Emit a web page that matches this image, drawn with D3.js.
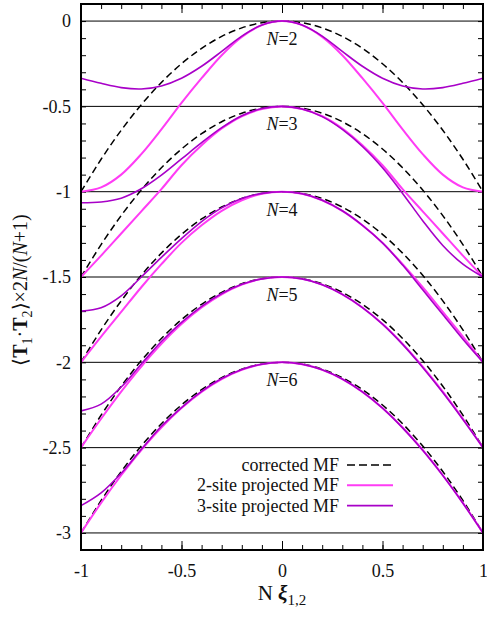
<!DOCTYPE html>
<html>
<head>
<meta charset="utf-8">
<script src="https://cdn.jsdelivr.net/npm/d3@7"></script>
<style>
  body { margin: 0; background: #fff; }
  svg text { font-family: "Liberation Serif", "Times New Roman", serif; fill: #111; }
</style>
</head>
<body>
<div id="chart"></div>
<script>
const width = 487,
  height = 620,
  margin = { top: 4, bottom: 70, left: 81, right: 4 };

// x positions of the read-off points
const xs = [-1, -0.9, -0.8, -0.7, -0.6, -0.5, -0.4, -0.3, -0.2, -0.1, 0,
  0.1, 0.2, 0.3, 0.4, 0.5, 0.6, 0.7, 0.8, 0.9, 1];

const Ns = [2, 3, 4, 5, 6];
const labelTops = [0, -0.5, -1, -1.5, -2];
const refLines = [0, -0.5, -1, -1.5, -2, -2.5, -3];
const xTicks = [-1, -0.5, 0, 0.5, 1];
const yTicks = [-3, -2.5, -2, -1.5, -1, -0.5, 0];

// corrected MF (dashed), one row per N
const correctedMF = [
  [-1, -0.81, -0.64, -0.49, -0.36, -0.25, -0.16, -0.09, -0.04, -0.01, 0, -0.01, -0.04, -0.09, -0.16, -0.25, -0.36, -0.49, -0.64, -0.81, -1],
  [-1.5, -1.31, -1.14, -0.99, -0.86, -0.75, -0.66, -0.59, -0.54, -0.51, -0.5, -0.51, -0.54, -0.59, -0.66, -0.75, -0.86, -0.99, -1.14, -1.31, -1.5],
  [-2, -1.81, -1.64, -1.49, -1.36, -1.25, -1.16, -1.09, -1.04, -1.01, -1, -1.01, -1.04, -1.09, -1.16, -1.25, -1.36, -1.49, -1.64, -1.81, -2],
  [-2.5, -2.31, -2.14, -1.99, -1.86, -1.75, -1.66, -1.59, -1.54, -1.51, -1.5, -1.51, -1.54, -1.59, -1.66, -1.75, -1.86, -1.99, -2.14, -2.31, -2.5],
  [-3, -2.81, -2.64, -2.49, -2.36, -2.25, -2.16, -2.09, -2.04, -2.01, -2, -2.01, -2.04, -2.09, -2.16, -2.25, -2.36, -2.49, -2.64, -2.81, -3]
];

// 2-site projected MF
const twoSiteMF = [
  [-1, -0.975, -0.9, -0.78, -0.635, -0.48, -0.335, -0.2, -0.093, -0.024, 0, -0.024, -0.093, -0.2, -0.335, -0.48, -0.635, -0.78, -0.9, -0.975, -1],
  [-1.5, -1.375, -1.245, -1.115, -0.985, -0.845, -0.728, -0.63, -0.558, -0.515, -0.5, -0.515, -0.558, -0.63, -0.728, -0.845, -0.985, -1.115, -1.245, -1.375, -1.5],
  [-2, -1.85, -1.705, -1.56, -1.425, -1.3, -1.197, -1.112, -1.05, -1.012, -1, -1.012, -1.05, -1.112, -1.197, -1.3, -1.425, -1.56, -1.705, -1.85, -2],
  [-2.5, -2.331, -2.172, -2.025, -1.892, -1.776, -1.679, -1.602, -1.545, -1.511, -1.5, -1.511, -1.545, -1.602, -1.679, -1.776, -1.892, -2.025, -2.172, -2.331, -2.5],
  [-3, -2.824, -2.662, -2.514, -2.382, -2.268, -2.173, -2.098, -2.044, -2.011, -2, -2.011, -2.044, -2.098, -2.173, -2.268, -2.382, -2.514, -2.662, -2.824, -3]
];

// 3-site projected MF
const threeSiteMF = [
  [-0.335, -0.365, -0.39, -0.398, -0.38, -0.335, -0.265, -0.178, -0.088, -0.023, 0, -0.023, -0.088, -0.178, -0.265, -0.335, -0.38, -0.398, -0.39, -0.365, -0.335],
  [-1.065, -1.06, -1.038, -0.983, -0.903, -0.808, -0.713, -0.625, -0.555, -0.513, -0.5, -0.515, -0.56, -0.635, -0.735, -0.86, -1.01, -1.17, -1.315, -1.425, -1.5],
  [-1.7, -1.68, -1.61, -1.5, -1.385, -1.275, -1.175, -1.095, -1.04, -1.01, -1, -1.012, -1.05, -1.112, -1.197, -1.3, -1.43, -1.575, -1.72, -1.865, -2],
  [-2.285, -2.245, -2.145, -2.01, -1.878, -1.766, -1.672, -1.597, -1.543, -1.511, -1.5, -1.511, -1.545, -1.602, -1.679, -1.776, -1.895, -2.03, -2.177, -2.335, -2.5],
  [-2.84, -2.765, -2.65, -2.51, -2.375, -2.265, -2.17, -2.095, -2.042, -2.011, -2, -2.011, -2.044, -2.098, -2.173, -2.268, -2.384, -2.516, -2.664, -2.826, -3]
];

const legendItems = ["corrected MF", "2-site projected MF", "3-site projected MF"];
const colors = { dashed: "#000", two: "#ff3cf5", three: "#a800c8" };

const xScale = d3.scaleLinear().domain([-1, 1]).range([margin.left, width - margin.right]);
const yScale = d3.scaleLinear().domain([-3.1, 0.1]).range([height - margin.bottom, margin.top]);

const svg = d3.select("#chart").append("svg")
  .attr("width", width)
  .attr("height", height);

svg.append("defs").append("clipPath").attr("id", "clip")
  .append("rect")
  .attr("x", margin.left).attr("y", margin.top)
  .attr("width", width - margin.left - margin.right)
  .attr("height", height - margin.top - margin.bottom);

// reference lines
svg.append("g").selectAll("line").data(refLines).join("line")
  .attr("x1", xScale(-1)).attr("x2", xScale(1))
  .attr("y1", d => yScale(d)).attr("y2", d => yScale(d))
  .attr("stroke", "#000").attr("stroke-width", 1);

// minor ticks
const minorX = d3.range(-10, 11).map(i => i / 10);
const minorY = d3.range(-31, 2).map(i => i / 10);
const bottom = height - margin.bottom, right = width - margin.right;

function ticksOn(g, axis, tr) {
  g.append("g").attr("transform", tr).call(axis)
    .call(a => a.select(".domain").remove())
    .call(a => a.selectAll("text").remove());
}
ticksOn(svg, d3.axisBottom(xScale).tickValues(minorX).tickSizeInner(-5).tickSizeOuter(0), `translate(0,${bottom})`);
ticksOn(svg, d3.axisTop(xScale).tickValues(minorX).tickSizeInner(-5).tickSizeOuter(0), `translate(0,${margin.top})`);
ticksOn(svg, d3.axisBottom(xScale).tickValues(xTicks).tickSizeInner(-9).tickSizeOuter(0), `translate(0,${bottom})`);
ticksOn(svg, d3.axisTop(xScale).tickValues(xTicks).tickSizeInner(-9).tickSizeOuter(0), `translate(0,${margin.top})`);
ticksOn(svg, d3.axisLeft(yScale).tickValues(minorY).tickSizeInner(-5).tickSizeOuter(0), `translate(${margin.left},0)`);
ticksOn(svg, d3.axisRight(yScale).tickValues(minorY).tickSizeInner(-5).tickSizeOuter(0), `translate(${right},0)`);

// labels
svg.append("g").attr("class", "x-axis")
  .attr("transform", `translate(0,${bottom})`)
  .call(d3.axisBottom(xScale).tickValues(xTicks).tickSize(0).tickPadding(14).tickFormat(d => String(d)))
  .call(g => g.select(".domain").remove())
  .selectAll("text").attr("font-size", 18).attr("font-family", "Liberation Serif");

svg.append("g").attr("class", "y-axis")
  .attr("transform", `translate(${margin.left},0)`)
  .call(d3.axisLeft(yScale).tickValues(yTicks).tickSize(0).tickPadding(10).tickFormat(d => String(d)))
  .call(g => g.select(".domain").remove())
  .selectAll("text").attr("font-size", 18).attr("font-family", "Liberation Serif");

// curves
const line = d3.line()
  .x((d, i) => xScale(xs[i]))
  .y(d => yScale(d))
  .curve(d3.curveCatmullRom);

const plot = svg.append("g").attr("clip-path", "url(#clip)");

plot.selectAll(".corr").data(correctedMF).join("path")
  .attr("class", "corr")
  .attr("d", line)
  .attr("fill", "none")
  .attr("stroke", colors.dashed)
  .attr("stroke-width", 1.5)
  .attr("stroke-dasharray", "7,4");

plot.selectAll(".two").data(twoSiteMF).join("path")
  .attr("class", "two")
  .attr("d", line)
  .attr("fill", "none")
  .attr("stroke", colors.two)
  .attr("stroke-width", 2);

plot.selectAll(".three").data(threeSiteMF).join("path")
  .attr("class", "three")
  .attr("d", line)
  .attr("fill", "none")
  .attr("stroke", colors.three)
  .attr("stroke-width", 1.6);

// N labels
const nLab = svg.append("g").selectAll("text").data(Ns).join("text")
  .attr("x", xScale(0))
  .attr("y", (d, i) => yScale(labelTops[i]) + 24)
  .attr("text-anchor", "middle")
  .attr("font-size", 18);
nLab.append("tspan").attr("font-style", "italic").text("N");
nLab.append("tspan").text(d => "=" + d);

// frame
svg.append("rect")
  .attr("x", margin.left).attr("y", margin.top)
  .attr("width", width - margin.left - margin.right)
  .attr("height", height - margin.top - margin.bottom)
  .attr("fill", "none")
  .attr("stroke", "#000")
  .attr("stroke-width", 2);

// legend
const legend = svg.append("g");
const legendStyles = [
  { stroke: colors.dashed, dash: "8,4", w: 1.5 },
  { stroke: colors.two, dash: null, w: 2 },
  { stroke: colors.three, dash: null, w: 1.6 }
];
legendItems.forEach((txt, i) => {
  const yb = 471 + i * 20.3;
  legend.append("text")
    .attr("x", 339).attr("y", yb)
    .attr("text-anchor", "end")
    .attr("font-size", 18)
    .text(txt);
  legend.append("line")
    .attr("x1", 347).attr("x2", 393)
    .attr("y1", yb - 6).attr("y2", yb - 6)
    .attr("stroke", legendStyles[i].stroke)
    .attr("stroke-width", legendStyles[i].w)
    .attr("stroke-dasharray", legendStyles[i].dash);
});

// x axis title
const xt = svg.append("text")
  .attr("x", 282).attr("y", 600)
  .attr("text-anchor", "middle")
  .attr("font-size", 21);
xt.append("tspan").text("N ");
xt.append("tspan").attr("font-weight", "bold").attr("font-style", "italic").text("ξ");
xt.append("tspan").attr("dy", 5).attr("font-size", 15).text("1,2");

// y axis title
const yt = svg.append("text")
  .attr("transform", "translate(27,290) rotate(-90)")
  .attr("text-anchor", "middle")
  .attr("font-size", 20);
yt.append("tspan").text("⟨");
yt.append("tspan").attr("font-weight", "bold").text("T");
yt.append("tspan").attr("dy", 5).attr("font-size", 14).text("1");
yt.append("tspan").attr("dy", -5).text("·");
yt.append("tspan").attr("font-weight", "bold").text("T");
yt.append("tspan").attr("dy", 5).attr("font-size", 14).text("2");
yt.append("tspan").attr("dy", -5).text("⟩×2");
yt.append("tspan").attr("font-style", "italic").text("N");
yt.append("tspan").text("/(");
yt.append("tspan").attr("font-style", "italic").text("N");
yt.append("tspan").text("+1)");
</script>
</body>
</html>
